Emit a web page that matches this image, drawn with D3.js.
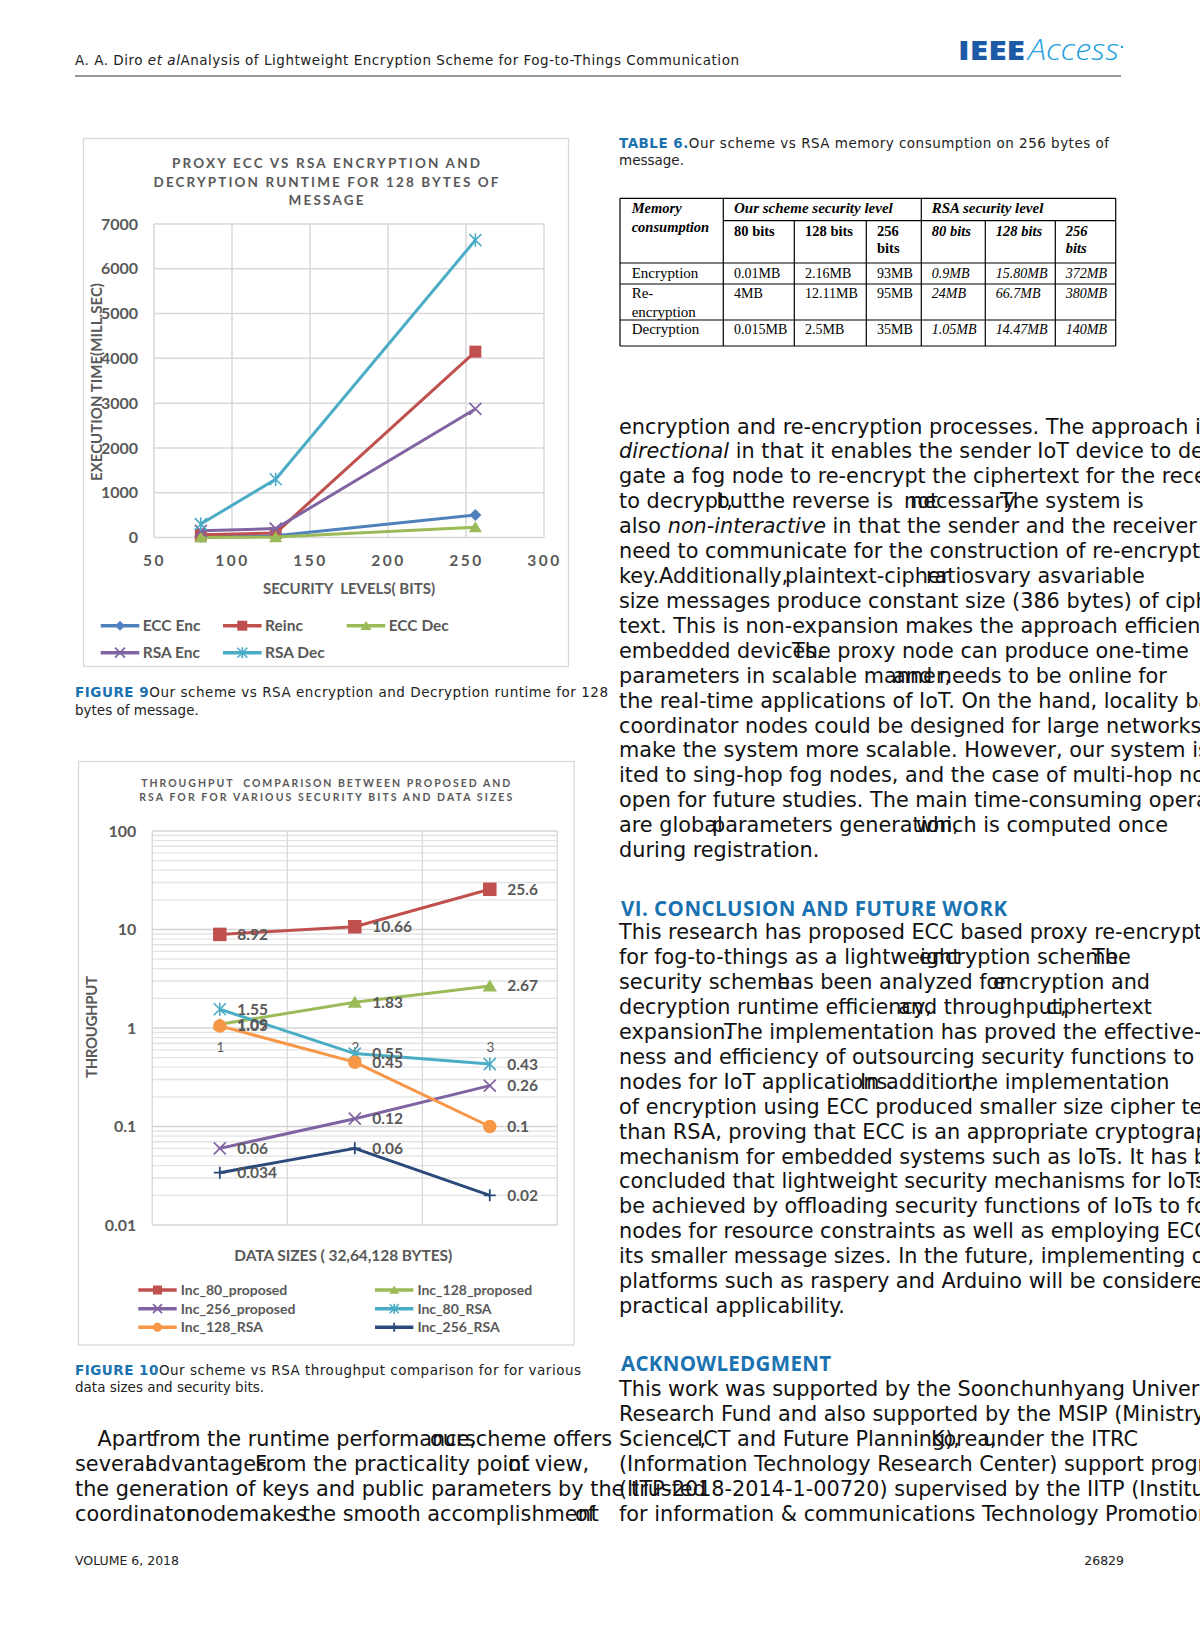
<!DOCTYPE html>
<html><head><meta charset="utf-8">
<script src="https://cdn.jsdelivr.net/npm/d3@7"></script>
<style>
html,body{margin:0;padding:0;background:#fff;}
svg{display:block;}
text{white-space:pre;}
</style></head><body>
<svg id="page" width="1200" height="1632"></svg>
<script>
// ---------- Figure 9 data ----------
const securityBits = [80, 128, 256];
const eccEnc = [10, 40, 500];
const reinc = [60, 100, 4150];
const eccDec = [0, 10, 230];
const rsaEnc = [150, 200, 2870];
const rsaDec = [300, 1300, 6640];
const fig9XTicks = [50, 100, 150, 200, 250, 300];
const fig9YTicks = [0, 1000, 2000, 3000, 4000, 5000, 6000, 7000];
const fig9Names = ["ECC Enc", "Reinc", "ECC Dec", "RSA Enc", "RSA Dec"];

// ---------- Figure 10 data ----------
const dataSizeCats = ["1", "2", "3"];
const inc80Proposed = [8.92, 10.66, 25.6];
const inc128Proposed = [1.09, 1.83, 2.67];
const inc256Proposed = [0.06, 0.12, 0.26];
const inc80RSA = [1.55, 0.55, 0.43];
const inc128RSA = [1.05, 0.45, 0.1];
const inc256RSA = [0.034, 0.06, 0.02];
const fig10YTicks = [0.01, 0.1, 1, 10, 100];
const fig10YTickLabels = ["0.01", "0.1", "1", "10", "100"];
const fig10Names = ["Inc_80_proposed", "Inc_128_proposed", "Inc_256_proposed", "Inc_80_RSA", "Inc_128_RSA", "Inc_256_RSA"];

// ---------- Table 6 data ----------
const tableRowLabels = [["Encryption"], ["Re-", "encryption"], ["Decryption"]];
const ourSchemeMem = [["0.01MB", "2.16MB", "93MB"], ["4MB", "12.11MB", "95MB"], ["0.015MB", "2.5MB", "35MB"]];
const rsaMem = [["0.9MB", "15.80MB", "372MB"], ["24MB", "66.7MB", "380MB"], ["1.05MB", "14.47MB", "140MB"]];

const svg = d3.select("#page");
svg.append("rect").attr("width", 1200).attr("height", 1632).attr("fill", "#fff");

const BLUE = "#1b72b1";
const GRAY = "#595959";
const BODY = 20.8;

function txt(g, x, y, s, o = {}) {
  const t = g.append("text").attr("x", x).attr("y", y)
    .attr("font-family", o.family || "DejaVu Sans")
    .attr("font-size", o.size || BODY)
    .attr("fill", o.fill || "#111");
  if (o.weight) t.attr("font-weight", o.weight);
  if (o.style) t.attr("font-style", o.style);
  if (o.anchor) t.attr("text-anchor", o.anchor);
  if (o.ls) t.attr("letter-spacing", o.ls);
  if (o.len) t.attr("textLength", o.len).attr("lengthAdjust", o.adj || "spacing");
  if (o.rot) t.attr("transform", `rotate(${o.rot},${x},${y})`);
  if (Array.isArray(s)) {
    s.forEach(r => {
      const ts = t.append("tspan").text(r[0]);
      if (r[1]) Object.entries(r[1]).forEach(([k, v]) => ts.attr(k, v));
    });
  } else t.text(s);
  return t;
}

// ---------- Header ----------
txt(svg, 75, 65, [["A. A. Diro "], ["et al", {"font-style": "italic"}], ["Analysis of Lightweight Encryption Scheme for Fog-to-Things Communication"]],
  {size: 13.5, fill: "#222", len: 664});
svg.append("line").attr("x1", 75).attr("x2", 1121).attr("y1", 76).attr("y2", 76).attr("stroke", "#333").attr("stroke-width", 1.2);
txt(svg, 958, 60, "IEEE", {family: "Open Sans", weight: 800, size: 27, fill: "#1c5aa6", len: 67, adj: "spacingAndGlyphs"});
txt(svg, 1028, 60, "Access", {family: "Open Sans", weight: 300, style: "italic", size: 29, fill: "#23a0dd", len: 91, adj: "spacingAndGlyphs"});
svg.append("circle").attr("cx", 1122).attr("cy", 47).attr("r", 1.3).attr("fill", "#23a0dd");

// ---------- Markers ----------
function drawMarker(g, type, x, y, s, color) {
  const r = s / 2;
  switch (type) {
    case "diamond":
      g.append("path").attr("d", `M${x},${y - r}L${x + r},${y}L${x},${y + r}L${x - r},${y}Z`).attr("fill", color); break;
    case "square":
      g.append("rect").attr("x", x - r).attr("y", y - r).attr("width", s).attr("height", s).attr("fill", color); break;
    case "triangle":
      g.append("path").attr("d", `M${x},${y - r}L${x + r * 1.1},${y + r * 0.85}L${x - r * 1.1},${y + r * 0.85}Z`).attr("fill", color); break;
    case "circle":
      g.append("circle").attr("cx", x).attr("cy", y).attr("r", r).attr("fill", color); break;
    case "x":
      g.append("path").attr("d", `M${x - r},${y - r}L${x + r},${y + r}M${x + r},${y - r}L${x - r},${y + r}`).attr("stroke", color).attr("stroke-width", 1.7).attr("fill", "none"); break;
    case "asterisk":
      g.append("path").attr("d", `M${x - r},${y - r}L${x + r},${y + r}M${x + r},${y - r}L${x - r},${y + r}M${x},${y - r * 1.1}L${x},${y + r * 1.1}`).attr("stroke", color).attr("stroke-width", 1.6).attr("fill", "none"); break;
    case "plus":
      g.append("path").attr("d", `M${x - r},${y}L${x + r},${y}M${x},${y - r}L${x},${y + r}`).attr("stroke", color).attr("stroke-width", 1.8).attr("fill", "none"); break;
  }
}

// ---------- Figure 9 ----------
const f9 = svg.append("g");
f9.append("rect").attr("x", 83.5).attr("y", 138.5).attr("width", 485).attr("height", 528)
  .attr("fill", "#fff").attr("stroke", "#d9d9d9").attr("stroke-width", 1.3);
txt(f9, 326, 167.5, "PROXY ECC VS RSA ENCRYPTION AND", {family: "Lato", weight: "bold", size: 13.5, fill: GRAY, anchor: "middle", len: 308});
txt(f9, 326, 186.5, "DECRYPTION RUNTIME FOR 128 BYTES OF", {family: "Lato", weight: "bold", size: 13.5, fill: GRAY, anchor: "middle", len: 345});
txt(f9, 326, 205, "MESSAGE", {family: "Lato", weight: "bold", size: 13.5, fill: GRAY, anchor: "middle", len: 75});

const x9 = d3.scaleLinear().domain([50, 300]).range([154, 544]);
const y9 = d3.scaleLinear().domain([0, 7000]).range([537.5, 224]);
f9.append("g").selectAll("line").data(fig9XTicks).join("line")
  .attr("x1", d => x9(d)).attr("x2", d => x9(d)).attr("y1", y9(0)).attr("y2", y9(7000))
  .attr("stroke", "#d9d9d9").attr("stroke-width", 1.5);
f9.append("g").selectAll("line").data(fig9YTicks).join("line")
  .attr("x1", x9(50)).attr("x2", x9(300)).attr("y1", d => y9(d)).attr("y2", d => y9(d))
  .attr("stroke", "#d9d9d9").attr("stroke-width", 1.5);

const ya9 = f9.append("g").attr("transform", `translate(${x9(50)},0)`)
  .call(d3.axisLeft(y9).tickValues(fig9YTicks).tickFormat(d3.format("d")).tickSize(0).tickPadding(16));
ya9.select(".domain").remove();
ya9.selectAll("text").attr("font-family", "Lato").attr("font-size", 16).attr("font-weight", "bold").attr("fill", GRAY);
const xa9 = f9.append("g").attr("transform", `translate(0,${y9(0)})`)
  .call(d3.axisBottom(x9).tickValues(fig9XTicks).tickFormat(d3.format("d")).tickSize(0).tickPadding(17));
xa9.select(".domain").remove();
xa9.selectAll("text").attr("font-family", "Lato").attr("font-size", 15.5).attr("font-weight", "bold").attr("fill", GRAY).attr("letter-spacing", 2.5);

txt(f9, 349, 594, "SECURITY  LEVELS( BITS)", {family: "Lato", weight: "bold", size: 15, fill: GRAY, anchor: "middle", len: 172});
txt(f9, 102, 382, "EXECUTION TIME(MILL.SEC)", {family: "Lato", weight: "bold", size: 15, fill: GRAY, anchor: "middle", len: 198, rot: -90});

const fig9Series = [
  {values: eccEnc, color: "#4F81BD", marker: "diamond", size: 12},
  {values: reinc, color: "#C0504D", marker: "square", size: 12},
  {values: eccDec, color: "#9BBB59", marker: "triangle", size: 12},
  {values: rsaEnc, color: "#8064A2", marker: "x", size: 12},
  {values: rsaDec, color: "#4BACC6", marker: "asterisk", size: 12}
];
const line9 = d3.line().x((d, i) => x9(securityBits[i])).y(d => y9(d));
fig9Series.forEach(s => {
  f9.append("path").attr("d", line9(s.values)).attr("fill", "none").attr("stroke", s.color).attr("stroke-width", 3).attr("stroke-linejoin", "round");
  s.values.forEach((v, i) => drawMarker(f9, s.marker, x9(securityBits[i]), y9(v), s.size, s.color));
});
// legend
const leg9Col = [100.7, 223, 346.7], leg9Row = [625.7, 652.7];
fig9Series.forEach((s, k) => {
  const c = k < 3 ? k : k - 3, r = k < 3 ? 0 : 1;
  const lx = leg9Col[c], ly = leg9Row[r];
  f9.append("line").attr("x1", lx).attr("x2", lx + 38.6).attr("y1", ly).attr("y2", ly).attr("stroke", s.color).attr("stroke-width", 3.5);
  drawMarker(f9, s.marker, lx + 19.3, ly, 10, s.color);
  txt(f9, lx + 42, ly + 5.5, fig9Names[k], {family: "Lato", weight: "bold", size: 15.5, fill: GRAY});
});
txt(svg, 75, 697, [["FIGURE 9", {"font-weight": "bold", fill: BLUE}], ["Our scheme vs RSA encryption and Decryption runtime for 128"]], {size: 13.5, fill: "#222", len: 533});
txt(svg, 75, 714.8, "bytes of message.", {size: 13.5, fill: "#222"});

// ---------- Figure 10 ----------
const f10 = svg.append("g");
f10.append("rect").attr("x", 78.5).attr("y", 761.5).attr("width", 495.5).attr("height", 583.5)
  .attr("fill", "#fff").attr("stroke", "#d9d9d9").attr("stroke-width", 1.3);
txt(f10, 325.7, 786.8, "THROUGHPUT  COMPARISON BETWEEN PROPOSED AND", {family: "Lato", weight: "bold", size: 10.5, fill: GRAY, anchor: "middle", len: 369});
txt(f10, 325.7, 800.8, "RSA FOR FOR VARIOUS SECURITY BITS AND DATA SIZES", {family: "Lato", weight: "bold", size: 10.5, fill: GRAY, anchor: "middle", len: 373});

const x10 = d3.scalePoint().domain(dataSizeCats).range([152.3, 557.3]).padding(0.5);
const y10 = d3.scaleLog().domain([0.01, 100]).range([1225, 831]);
const minorTicks = y10.ticks().filter(v => !fig10YTicks.some(t => Math.abs(t - v) < 1e-9));
f10.append("g").selectAll("line").data(minorTicks).join("line")
  .attr("x1", 152.3).attr("x2", 557.3).attr("y1", d => y10(d)).attr("y2", d => y10(d))
  .attr("stroke", "#e3e3e3").attr("stroke-width", 1.3);
const bandEdges = d3.range(dataSizeCats.length + 1).map(i => x10.range()[0] + i * x10.step());
f10.append("g").selectAll("line").data(bandEdges).join("line")
  .attr("x1", d => d).attr("x2", d => d).attr("y1", y10(0.01)).attr("y2", y10(100))
  .attr("stroke", "#d9d9d9").attr("stroke-width", 1.3);
f10.append("g").selectAll("line").data(fig10YTicks).join("line")
  .attr("x1", 152.3).attr("x2", 557.3).attr("y1", d => y10(d)).attr("y2", d => y10(d))
  .attr("stroke", "#d4d4d4").attr("stroke-width", 1.5);

const ya10 = f10.append("g").attr("transform", "translate(152.3,0)")
  .call(d3.axisLeft(y10).tickValues(fig10YTicks).tickFormat((d, i) => fig10YTickLabels[i]).tickSize(0).tickPadding(16));
ya10.select(".domain").remove();
ya10.selectAll("text").attr("font-family", "Lato").attr("font-size", 16).attr("font-weight", "bold").attr("fill", GRAY);
const xa10 = f10.append("g").attr("transform", `translate(0,${y10(1)})`)
  .call(d3.axisBottom(x10).tickSize(0).tickPadding(14));
xa10.select(".domain").remove();
xa10.selectAll("text").attr("font-family", "Lato").attr("font-size", 13.5).attr("fill", GRAY);

txt(f10, 343.3, 1261, "DATA SIZES ( 32,64,128 BYTES)", {family: "Lato", weight: "bold", size: 15.5, fill: GRAY, anchor: "middle", len: 218});
txt(f10, 97, 1027, "THROUGHPUT", {family: "Lato", weight: "bold", size: 15, fill: GRAY, anchor: "middle", len: 102, rot: -90});

const fig10Series = [
  {values: inc80Proposed, color: "#C0504D", marker: "square", size: 13.5},
  {values: inc128Proposed, color: "#9BBB59", marker: "triangle", size: 13},
  {values: inc256Proposed, color: "#8064A2", marker: "x", size: 12},
  {values: inc80RSA, color: "#4BACC6", marker: "asterisk", size: 12},
  {values: inc128RSA, color: "#F79646", marker: "circle", size: 13.5},
  {values: inc256RSA, color: "#2B4A7B", marker: "plus", size: 12}
];
const line10 = d3.line().x((d, i) => x10(dataSizeCats[i])).y(d => y10(d));
fig10Series.forEach(s => {
  f10.append("path").attr("d", line10(s.values)).attr("fill", "none").attr("stroke", s.color).attr("stroke-width", 3).attr("stroke-linejoin", "round");
  s.values.forEach((v, i) => drawMarker(f10, s.marker, x10(dataSizeCats[i]), y10(v), s.size, s.color));
});
fig10Series.forEach(s => {
  s.values.forEach((v, i) => txt(f10, x10(dataSizeCats[i]) + 17.5, y10(v) + 5.5, String(v), {family: "Lato", weight: "bold", size: 15.5, fill: GRAY}));
});
const leg10Col = [138.3, 375], leg10Row = [1290, 1308.7, 1327.3];
fig10Series.forEach((s, k) => {
  const lx = leg10Col[k % 2], ly = leg10Row[Math.floor(k / 2)];
  f10.append("line").attr("x1", lx).attr("x2", lx + 38.4).attr("y1", ly).attr("y2", ly).attr("stroke", s.color).attr("stroke-width", 3.5);
  drawMarker(f10, s.marker, lx + 19.2, ly, 9, s.color);
  txt(f10, lx + 42.4, ly + 5, fig10Names[k], {family: "Lato", weight: "bold", size: 14, fill: GRAY});
});
txt(svg, 75, 1374.7, [["FIGURE 10", {"font-weight": "bold", fill: BLUE}], ["Our scheme vs RSA throughput comparison for for various"]], {size: 13.5, fill: "#222", len: 506});
txt(svg, 75, 1392.4, "data sizes and security bits.", {size: 13.5, fill: "#222"});

// ---------- Table 6 ----------
txt(svg, 619, 147.6, [["TABLE 6.", {"font-weight": "bold", fill: BLUE}], ["Our scheme vs RSA memory consumption on 256 bytes of"]], {size: 13.5, fill: "#222", len: 490});
txt(svg, 619, 165.3, "message.", {size: 13.5, fill: "#222"});
const tb = svg.append("g");
const colX = [620, 723.3, 794.3, 866.3, 921.3, 985.3, 1055.3, 1115.7];
const rowY = [198.3, 220.7, 263, 284, 320, 346];
const ln = (x1, y1, x2, y2) => tb.append("line").attr("x1", x1).attr("y1", y1).attr("x2", x2).attr("y2", y2).attr("stroke", "#000").attr("stroke-width", 1.2);
ln(colX[0], rowY[0], colX[7], rowY[0]);
ln(colX[1], rowY[1], colX[7], rowY[1]);
[2, 3, 4, 5].forEach(r => ln(colX[0], rowY[r], colX[7], rowY[r]));
[0, 1, 4, 7].forEach(c => ln(colX[c], rowY[0], colX[c], rowY[5]));
[2, 3, 5, 6].forEach(c => ln(colX[c], rowY[1], colX[c], rowY[5]));
const TF = "Liberation Serif";
const tOpt = (w, st, sz) => ({family: TF, size: sz || 14.5, fill: "#000", weight: w, style: st});
txt(tb, 631.7, 213, "Memory", tOpt("bold", "italic"));
txt(tb, 631.7, 231.7, "consumption", tOpt("bold", "italic"));
txt(tb, colX[1] + 10.7, 213.3, "Our scheme security level", tOpt("bold", "italic", 15));
txt(tb, colX[4] + 10.4, 213.3, "RSA security level", tOpt("bold", "italic", 15));
const subHead = [["80 bits"], ["128 bits"], ["256", "bits"]];
subHead.forEach((h, j) => {
  h.forEach((s, k) => {
    txt(tb, colX[1 + j] + 10.7, 236 + k * 17.3, s, tOpt("bold", null));
    txt(tb, colX[4 + j] + 10.5, 236 + k * 17.3, s, tOpt("bold", "italic"));
  });
});
const rowTextY = [278.3, 298.3, 334.3];
tableRowLabels.forEach((lab, r) => {
  lab.forEach((s, k) => txt(tb, 631.7, rowTextY[r] + k * 18.4, s, tOpt(null, null, 15)));
  ourSchemeMem[r].forEach((s, j) => txt(tb, colX[1 + j] + 10.7, rowTextY[r], s, tOpt(null, null, 14)));
  rsaMem[r].forEach((s, j) => txt(tb, colX[4 + j] + 10.5, rowTextY[r], s, tOpt(null, "italic", 14)));
});

// ---------- Body text ----------
const IT = {"font-style": "italic"};
function drawLines(lines, x0, yc0, dy) {
  lines.forEach((ln, i) => {
    const y = yc0 + i * dy + 6.8;
    if (typeof ln === "string") txt(svg, x0, y, ln);
    else ln.forEach(seg => txt(svg, seg[0], y, seg[1]));
  });
}
const rightPara1 = [
  "encryption and re-encryption processes. The approach is bi-",
  [[619, [["directional", IT], [" in that it enables the sender IoT device to dele-"]]]],
  "gate a fog node to re-encrypt the ciphertext for the receiver",
  [[619, "to decrypt,"], [716.5, "but"], [751, "the reverse is"], [904, "not"], [910, "necessary."], [1000, "The system is"]],
  [[619, [["also "], ["non-interactive", IT], [" in that the sender and the receiver do not"]]]],
  "need to communicate for the construction of re-encryption",
  [[619, "key.Additionally,"], [785, "plaintext-cipher"], [926, "ratios"], [985, "vary as"], [1061, "variable"]],
  "size messages produce constant size (386 bytes) of cipher-",
  "text. This is non-expansion makes the approach efficient for",
  [[619, "embedded devices."], [792, "The proxy node can produce one-time"]],
  [[619, "parameters in scalable manner,"], [893, "and needs to be online for"]],
  "the real-time applications of IoT. On the hand, locality based",
  "coordinator nodes could be designed for large networks to",
  "make the system more scalable. However, our system is lim-",
  "ited to sing-hop fog nodes, and the case of multi-hop nodes is",
  "open for future studies. The main time-consuming operations",
  [[619, "are global"], [712, "parameters generation,"], [916, "which is computed once"]],
  "during registration."
];
drawLines(rightPara1, 619, 426.7, 24.92);

txt(svg, 621, 915.5, "VI. CONCLUSION AND FUTURE WORK", {family: "Open Sans", weight: "bold", size: 20.5, fill: BLUE, len: 386});
const conclusion = [
  "This research has proposed ECC based proxy re-encryption",
  [[619, "for fog-to-things as a lightweight"], [919, "encryption scheme."], [1092, "The"]],
  [[619, "security scheme"], [777, "has been analyzed for"], [993, "encryption and"]],
  [[619, "decryption runtime efficiency,"], [898, "and throughput,"], [1046, "ciphertext"]],
  [[619, "expansion."], [724, "The implementation has proved the effective-"]],
  "ness and efficiency of outsourcing security functions to fog",
  [[619, "nodes for IoT applications."], [860, "In addition,"], [964, "the implementation"]],
  "of encryption using ECC produced smaller size cipher text",
  "than RSA, proving that ECC is an appropriate cryptographic",
  "mechanism for embedded systems such as IoTs. It has been",
  "concluded that lightweight security mechanisms for IoTs can",
  "be achieved by offloading security functions of IoTs to fog",
  "nodes for resource constraints as well as employing ECC for",
  "its smaller message sizes. In the future, implementing on",
  "platforms such as raspery and Arduino will be considered for",
  "practical applicability."
];
drawLines(conclusion, 619, 932.6, 24.9);

txt(svg, 621, 1371.2, "ACKNOWLEDGMENT", {family: "Open Sans", weight: "bold", size: 20.5, fill: BLUE, len: 210});
const ack = [
  "This work was supported by the Soonchunhyang University",
  "Research Fund and also supported by the MSIP (Ministry of",
  [[619, "Science,"], [697, "ICT and Future Planning),"], [931, "Korea,"], [983, "under the ITRC"]],
  "(Information Technology Research Center) support program",
  "(IITP-2018-2014-1-00720) supervised by the IITP (Institute",
  "for information & communications Technology Promotion)."
];
drawLines(ack, 619, 1389.5, 24.97);

const leftPara = [
  [[97.5, "Apart"], [152, "from the runtime performance,"], [430, "our"], [465, "scheme offers"]],
  [[75, "several"], [145, "advantages."], [255, "From the practicality point"], [508, "of view,"]],
  "the generation of keys and public parameters by the trusted",
  [[75, "coordinator"], [187, "node"], [239, "makes"], [302, "the smooth accomplishment"], [575, "of"]]
];
drawLines(leftPara, 75, 1439.4, 25);

// ---------- Footer ----------
txt(svg, 75, 1564.5, "VOLUME 6, 2018", {size: 12.5, fill: "#222"});
txt(svg, 1124, 1564.5, "26829", {size: 12.5, fill: "#222", anchor: "end"});
</script>
</body></html>
